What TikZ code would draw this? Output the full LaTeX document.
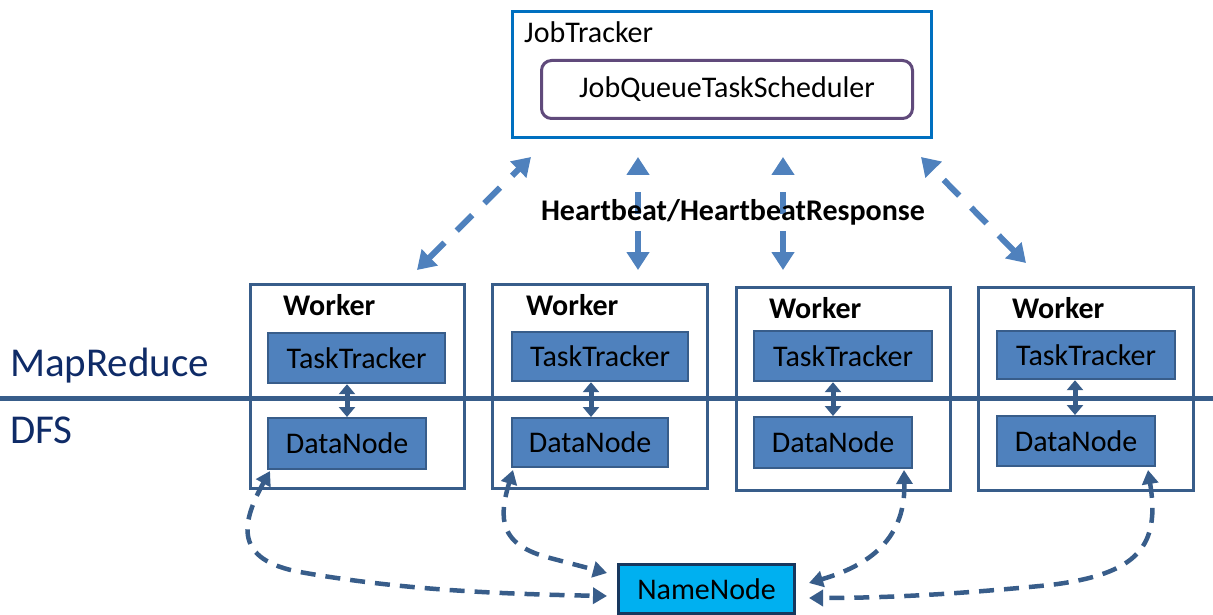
\documentclass[tikz,border=0pt]{standalone}
\usepackage{fontspec}
\setmainfont{Carlito}
\usetikzlibrary{arrows.meta,positioning}
\definecolor{jtblue}{HTML}{0070C0}
\definecolor{jqpurple}{HTML}{604A7B}
\definecolor{wkborder}{HTML}{385D8A}
\definecolor{ttfill}{HTML}{4F81BD}
\definecolor{nnfill}{HTML}{00B0F0}
\definecolor{nnborder}{HTML}{17375E}
\definecolor{hbblue}{HTML}{4F81BD}
\definecolor{lbl}{HTML}{0F2B67}
\tikzset{
  txt/.style={font=\fontsize{30}{33}\selectfont, inner sep=0pt},
  boldtxt/.style={font=\fontsize{30}{33}\selectfont\bfseries, inner sep=0pt},
  workerbox/.style={draw=wkborder, line width=2.6pt, anchor=north west, inner sep=0pt},
  inbox/.style={draw=wkborder, fill=ttfill, line width=2.2pt, anchor=north west, inner sep=0pt, font=\fontsize{30}{33}\selectfont},
  hbarrow/.style={draw=hbblue, line width=6pt, dash pattern=on 22pt off 17pt, {Triangle[length=18pt,width=22pt]}-{Triangle[length=18pt,width=22pt]}},
  ttdn/.style={draw=wkborder, line width=5pt, {Triangle[length=10pt,width=16pt]}-{Triangle[length=10pt,width=16pt]}},
  nnarrow/.style={draw=wkborder, line width=4.5pt, dash pattern=on 15pt off 10pt, {Triangle[length=14pt,width=16pt]}-{Triangle[length=14pt,width=16pt]}},
}
\begin{document}
\begin{tikzpicture}[x=1pt,y=-1pt]
\useasboundingbox (0,0) rectangle (1213,615);

% JobTracker
\node[draw=jtblue, line width=3pt, anchor=north west, minimum width=419pt, minimum height=126pt, inner sep=0pt] (jt) at (511,10) {};
\node[txt, anchor=base west] (jtl) at (524,43) {JobTracker};
\node[draw=jqpurple, line width=3pt, rounded corners=10pt, anchor=north west, minimum width=371pt, minimum height=58pt, inner sep=0pt, txt] (jq) at (540,59) {JobQueueTaskScheduler};

% separator line
\draw[wkborder, line width=5pt] (0,398) -- (1213,398);
\node[anchor=base west, inner sep=0pt, text=lbl, font=\fontsize{41}{45}\selectfont] (mr) at (10,376) {MapReduce};
\node[anchor=base west, inner sep=0pt, text=lbl, font=\fontsize{41}{45}\selectfont] (dfs) at (10,443) {DFS};

% Workers
\node[workerbox, minimum width=214pt, minimum height=204pt] (w1) at (249,283) {};
\node[workerbox, minimum width=215pt, minimum height=204pt] (w2) at (491,283) {};
\node[workerbox, minimum width=214pt, minimum height=203pt] (w3) at (735,286) {};
\node[workerbox, minimum width=215pt, minimum height=203pt] (w4) at (977,286) {};

\node[boldtxt, anchor=base west] (wl1) at (283,315) {Worker};
\node[boldtxt, anchor=base west] (wl2) at (526,315) {Worker};
\node[boldtxt, anchor=base west] (wl3) at (769,318) {Worker};
\node[boldtxt, anchor=base west] (wl4) at (1012,318) {Worker};

\node[inbox, minimum width=177pt, minimum height=50pt] (tt1) at (267,332) {TaskTracker};
\node[inbox, minimum width=176pt, minimum height=49pt] (tt2) at (511,331) {TaskTracker};
\node[inbox, minimum width=178pt, minimum height=50pt] (tt3) at (753,330) {TaskTracker};
\node[inbox, minimum width=178pt, minimum height=48pt] (tt4) at (996,330) {TaskTracker};

\node[inbox, minimum width=158pt, minimum height=51pt] (dn1) at (267,417) {DataNode};
\node[inbox, minimum width=156pt, minimum height=49pt] (dn2) at (511,417) {DataNode};
\node[inbox, minimum width=158pt, minimum height=51pt] (dn3) at (753,416) {DataNode};
\node[inbox, minimum width=158pt, minimum height=50pt] (dn4) at (996,415) {DataNode};

\draw[ttdn] (tt1.south -| 347,0) -- (dn1.north -| 347,0);
\draw[ttdn] (tt2.south -| 591,0) -- (dn2.north -| 591,0);
\draw[ttdn] (tt3.south -| 833,0) -- (dn3.north -| 833,0);
\draw[ttdn] (tt4.south -| 1075,0) -- (dn4.north -| 1075,0);

% NameNode
\node[draw=nnborder, fill=nnfill, line width=3pt, anchor=north west, minimum width=176pt, minimum height=49pt, inner sep=0pt, txt] (nn) at (617,563) {NameNode};

% Heartbeat arrows
\coordinate (h1a) at (417,270); \coordinate (h1b) at (531,157);
\coordinate (h2a) at (638,270); \coordinate (h2b) at (638,157);
\coordinate (h3a) at (783,270); \coordinate (h3b) at (783,157);
\coordinate (h4a) at (1026,263); \coordinate (h4b) at (921,157);
\draw[hbarrow] (h1a) -- (h1b);
\draw[hbarrow] (h2a) -- (h2b);
\draw[hbarrow] (h3a) -- (h3b);
\draw[hbarrow] (h4a) -- (h4b);
\node[boldtxt, anchor=base] (hb) at (733,220) {Heartbeat/HeartbeatResponse};

% DataNode <-> NameNode
\coordinate (c1) at (270,471); \coordinate (n1) at (607,596);
\coordinate (c2) at (513,470); \coordinate (n2) at (607,573);
\coordinate (c3) at (904,470); \coordinate (n3) at (809,583);
\coordinate (c4) at (1148,470); \coordinate (n4) at (809,598);
\draw[nnarrow] (c1) .. controls (240,525) and (235,560) .. (300,572) .. controls (400,590) and (500,594) .. (n1);
\draw[nnarrow] (c2) .. controls (498,520) and (500,545) .. (550,558) -- (n2);
\draw[nnarrow] (c3) .. controls (906,545) and (860,568) .. (n3);
\draw[nnarrow] (c4) .. controls (1160,545) and (1140,574) .. (1050,585) .. controls (950,595) and (880,598) .. (n4);
\end{tikzpicture}
\end{document}
